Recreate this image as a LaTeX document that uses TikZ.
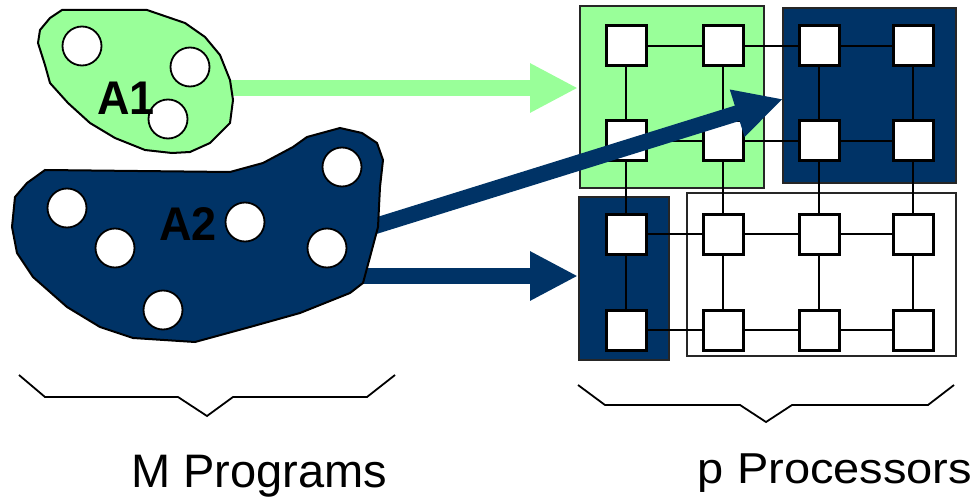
\documentclass[tikz,border=0pt]{standalone}
\usepackage{fontspec}
\setmainfont{Liberation Sans}
\usetikzlibrary{arrows.meta}

\definecolor{navy}{RGB}{0,51,102}
\definecolor{lightgreen}{RGB}{153,255,153}

\tikzset{
  pe/.style={draw=black, line width=3pt, fill=white, minimum size=40pt, inner sep=0pt},
  task/.style={circle, draw=black, line width=1.8pt, fill=white, minimum size=39pt, inner sep=0pt},
  link/.style={line width=2.2pt},
  part/.style={draw=black!85, line width=2.2pt},
  blob/.style={draw=black, line width=2pt},
  bigarrow/.style={line width=16pt, -{Triangle[length=48pt,width=46pt]}},
  brace/.style={line width=1.8pt},
  label/.style={font=\bfseries\fontsize{45}{45}\selectfont},
  caption/.style={font=\fontsize{47}{47}\selectfont, anchor=base}
}

\begin{document}
\begin{tikzpicture}[x=1pt,y=-1pt]
  \useasboundingbox (0,0) rectangle (979,497);

  % partitions of the machine
  \draw[part, fill=lightgreen] (580,6) rectangle (764,188);
  \draw[part, fill=navy] (783,8) rectangle (956,183);
  \draw[part, fill=navy] (579,197) rectangle (669,360);
  \draw[part, fill=white] (687,193) rectangle (956,356);

  % processors
  \node[pe] (p11) at (626,46) {};
  \node[pe] (p12) at (723,46) {};
  \node[pe] (p13) at (819,46) {};
  \node[pe] (p14) at (913,46) {};
  \node[pe] (p21) at (626,141) {};
  \node[pe] (p22) at (723,141) {};
  \node[pe] (p23) at (819,141) {};
  \node[pe] (p24) at (913,141) {};
  \node[pe] (p31) at (626,234) {};
  \node[pe] (p32) at (723,234) {};
  \node[pe] (p33) at (819,234) {};
  \node[pe] (p34) at (913,234) {};
  \node[pe] (p41) at (626,330) {};
  \node[pe] (p42) at (723,330) {};
  \node[pe] (p43) at (819,330) {};
  \node[pe] (p44) at (913,330) {};

  % mesh links
  \draw[link] (p11) -- (p12) (p12) -- (p13) (p13) -- (p14);
  \draw[link] (p21) -- (p22) (p22) -- (p23) (p23) -- (p24);
  \draw[link] (p31) -- (p32) (p32) -- (p33) (p33) -- (p34);
  \draw[link] (p41) -- (p42) (p42) -- (p43) (p43) -- (p44);
  \draw[link] (p11) -- (p21) (p21) -- (p31) (p31) -- (p41);
  \draw[link] (p12) -- (p22) (p22) -- (p32) (p32) -- (p42);
  \draw[link] (p13) -- (p23) (p23) -- (p33) (p33) -- (p43);
  \draw[link] (p14) -- (p24) (p24) -- (p34) (p34) -- (p44);

  % mapping arrows
  \coordinate (a1out) at (228,88);
  \coordinate (a2outa) at (372,227);
  \coordinate (a2outb) at (362,276);
  \coordinate (greenin) at (578,88);
  \coordinate (navyina) at (783,99);
  \coordinate (navyinb) at (578,276);
  \draw[bigarrow, lightgreen] (a1out) -- (greenin);
  \draw[bigarrow, navy] (a2outa) -- (navyina);
  \draw[bigarrow, navy] (a2outb) -- (navyinb);

  % programs
  \draw[blob, fill=lightgreen] (62,10) -- (147,10) -- (185,23) -- (205,37) -- (220,55)
    -- (230,80) -- (233,100) -- (230,123) -- (210,143) -- (190,152) -- (172,153)
    -- (145,150) -- (115,138) -- (90,123) -- (68,103) -- (50,83) -- (45,65)
    -- (38,43) -- (40,30) -- (50,18) -- cycle;
  \draw[blob, fill=navy] (45,170) -- (230,172) -- (263,163) -- (293,147) -- (307,137)
    -- (340,128) -- (362,133) -- (377,143) -- (383,160) -- (380,187) -- (378,227)
    -- (370,257) -- (363,283) -- (350,293) -- (300,313) -- (250,327) -- (195,342)
    -- (133,338) -- (100,327) -- (67,307) -- (33,277) -- (17,253) -- (12,227)
    -- (15,197) -- (27,183) -- cycle;

  \node[task] (t1) at (82,46) {};
  \node[task] (t2) at (190,67) {};
  \node[task] (t3) at (168,119) {};
  \node[task] (t4) at (67,208) {};
  \node[task] (t5) at (115,248) {};
  \node[task] (t6) at (245,222) {};
  \node[task] (t7) at (342,167) {};
  \node[task] (t8) at (327,248) {};
  \node[task] (t9) at (163,310) {};

  \node[label, anchor=base] (a1) at (126,115) {\scalebox{1}[1.05]{A1}};
  \node[label, anchor=base] (a2) at (188,240) {\scalebox{1}[1.05]{A2}};

  % braces
  \draw[brace] (19,375) -- (45,397) -- (178,397) -- (207,416) -- (233,397) -- (367,397) -- (395,375);
  \draw[brace] (578,385) -- (605,405) -- (740,405) -- (766,422) -- (792,405) -- (928,405) -- (954,385);

  \node[caption] (mprog) at (259,487) {M Programs};
  \node[caption] (pproc) at (835,483) {\scalebox{1}[0.92]{p Processors}};
\end{tikzpicture}
\end{document}
